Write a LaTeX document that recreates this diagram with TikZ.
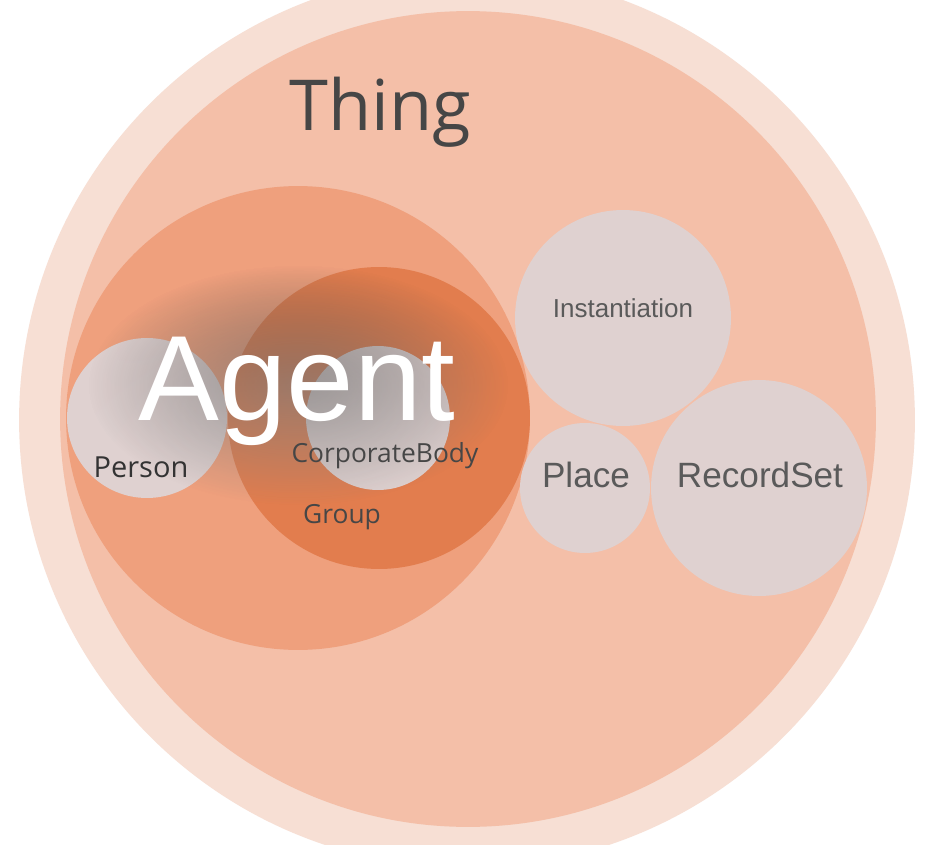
\documentclass[tikz,border=0pt]{standalone}
\usepackage{fontspec}
\usepackage{xcolor}
\usetikzlibrary{fadings}
\newfontfamily\uifont{Open Sans}
\newfontfamily\arialfont{Liberation Sans}
\definecolor{halo}{HTML}{F7DFD4}
\definecolor{thingfill}{HTML}{F4BFA8}
\definecolor{agentfill}{HTML}{EFA07D}
\definecolor{groupfill}{HTML}{E27D4E}
\definecolor{leaffill}{HTML}{DFD1D0}
\definecolor{darktext}{HTML}{464646}
\definecolor{leaftext}{HTML}{5A5A5A}
\definecolor{shade}{HTML}{6E2E16}
\tikzfading[name=glowfade, inner color=transparent!0, outer color=transparent!100]
\tikzset{
    bubble/.style={circle, inner sep=0pt, draw=none},
    leaf/.style={bubble, fill=leaffill},
    uilabel/.style={anchor=base, inner sep=0pt, font=\uifont\fontsize{15pt}{18pt}\selectfont, text=darktext},
    leaflabel/.style={anchor=base, inner sep=0pt, font=\arialfont\fontsize{20pt}{24pt}\selectfont, text=leaftext}
}
\begin{document}
\begin{tikzpicture}[x=0.02cm, y=-0.02cm]
    \useasboundingbox (0,0) rectangle (950,845);
    \clip (0,0) rectangle (950,845);
    \fill[white] (0,0) rectangle (950,845);

    % nested classes
    \node (outer) [bubble, fill=halo, minimum size=17.92cm] at (467,420) {};
    \node (thing) [bubble, fill=thingfill, minimum size=16.32cm] at (468,419) {};
    \node (agent) [bubble, fill=agentfill, minimum size=9.28cm] at (298,418) {};
    \node (group) [bubble, fill=groupfill, minimum size=6.04cm] at (379,418) {};
    \node (person) [leaf, minimum size=3.2cm] at (147,418) {};
    \node (corporate) [leaf, minimum size=2.88cm] at (378,418) {};
    \node (instantiation) [leaf, minimum size=4.32cm] at (623,318) {};
    \node (place) [leaf, minimum size=2.6cm] at (585,488) {};
    \node (recordset) [leaf, minimum size=4.32cm] at (759,488) {};

    % glow behind the Agent title
    \fill[shade, opacity=0.4, path fading=glowfade] (298,385) ellipse [x radius=210, y radius=120];

    % labels
    \node (thinglabel) [anchor=base, inner sep=0pt, font=\uifont\fontsize{40pt}{48pt}\selectfont, text=darktext] at (380,130) {Thing};
    \node (agentlabel) [anchor=base, inner sep=0pt, font=\arialfont\fontsize{69pt}{80pt}\selectfont, text=white] at (297,420) {Agent};
    \node (personlabel) [uilabel, font=\uifont\fontsize{16.5pt}{20pt}\selectfont, text=black!80] at (141,477) {Person};
    \node (corporatelabel) [uilabel] at (385,462) {CorporateBody};
    \node (grouplabel) [uilabel] at (342,523) {Group};
    \node (instantiationlabel) [leaflabel, font=\arialfont\fontsize{14.8pt}{18pt}\selectfont] at (623,317) {Instantiation};
    \node (placelabel) [leaflabel] at (586,487) {Place};
    \node (recordsetlabel) [leaflabel] at (760,487) {RecordSet};
\end{tikzpicture}
\end{document}
